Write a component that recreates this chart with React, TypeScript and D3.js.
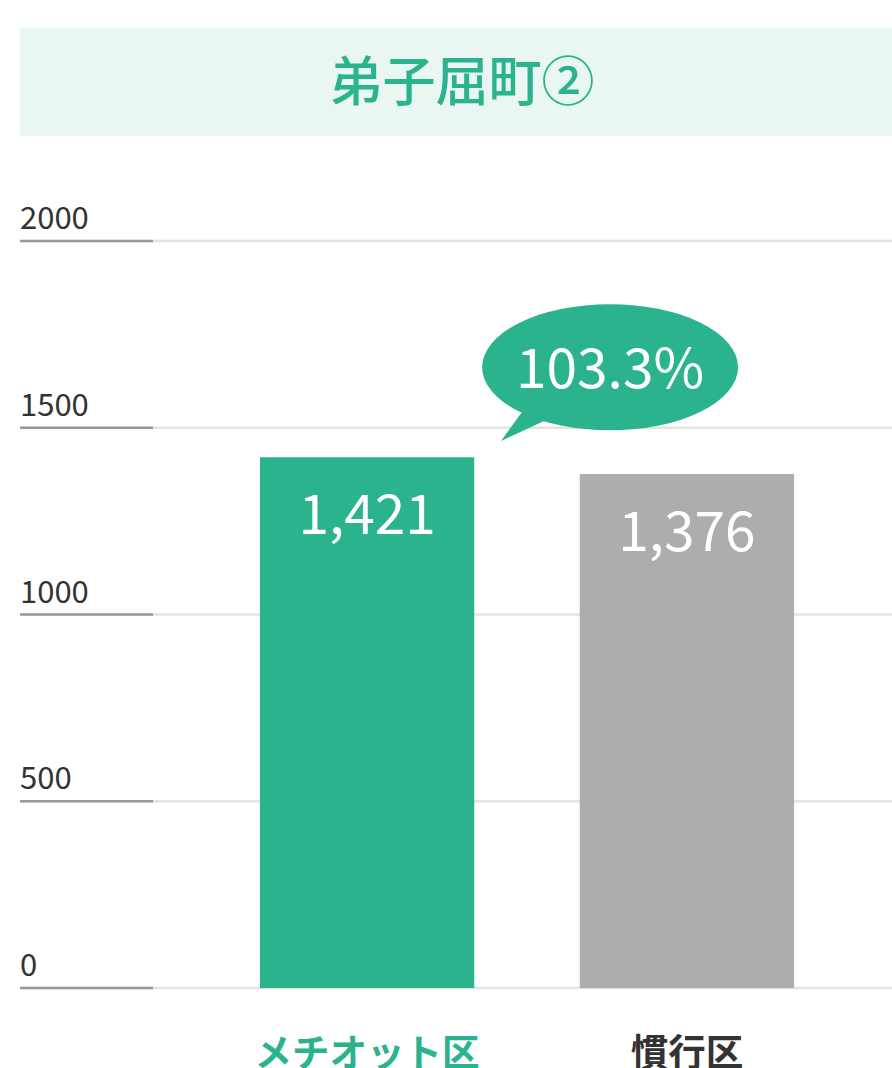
import React from "react";
import * as d3 from "d3";

const title = "弟子屈町②";
const categories = ["メチオット区", "慣行区"];
const values = [1421, 1376];
const valueLabels = ["1,421", "1,376"];
const ratioLabel = "103.3%";
const yTicks = [0, 500, 1000, 1500, 2000];

const W = 892;
const H = 1068;
const GREEN = "#2bb38e";
const GRAY = "#adadad";
const FONT = "'Noto Sans CJK JP', 'Noto Sans', sans-serif";

export default function App() {
  const y = d3.scaleLinear().domain([0, 2000]).range([988, 241]);
  const xb = d3.scaleBand().domain(categories).range([100, 954]).paddingInner(0.33).paddingOuter(0.5);
  const bw = xb.bandwidth();
  const cx0 = (xb(categories[0]) as number) + bw / 2;
  const top0 = y(values[0]);

  const tail = d3.line()([[522, 412], [501, 441], [544, 421]]);

  return (
    <svg width={W} height={H} style={{ display: "block", position: "absolute", left: 0, top: 0 }} fontFamily={FONT}>
      <rect x={20} y={28} width={W - 20} height={108} fill="#e9f6f2" />
      <text x={462} y={101} textAnchor="middle" fontSize={53} fontWeight={500} fill={GREEN}>{title}</text>

      {yTicks.map((t) => (
        <g key={t}>
          <line x1={20} x2={W} y1={y(t)} y2={y(t)} stroke="#e3e3e3" strokeWidth={2.5} />
          <line x1={20} x2={153} y1={y(t)} y2={y(t)} stroke="#9a9a9a" strokeWidth={2.5} />
          <text x={20} y={y(t) - 12} fontSize={31} fill="#333">{t}</text>
        </g>
      ))}

      {categories.map((c, i) => (
        <g key={c}>
          <rect x={xb(c)} y={y(values[i])} width={bw} height={y(0) - y(values[i])} fill={i === 0 ? GREEN : GRAY} />
          <text x={(xb(c) as number) + bw / 2} y={y(values[i]) + 77} textAnchor="middle" fontSize={55} fill="#fff">{valueLabels[i]}</text>
          <text x={(xb(c) as number) + bw / 2} y={1066} textAnchor="middle" fontSize={37.5} fontWeight={700} fill={i === 0 ? GREEN : "#333"}>{c}</text>
        </g>
      ))}

      <g>
        <ellipse cx={cx0 + 243} cy={top0 - 90} rx={128} ry={63} fill={GREEN} />
        <path d={tail + "Z"} fill={GREEN} />
        <text x={cx0 + 243} y={top0 - 69} textAnchor="middle" fontSize={55} fill="#fff">{ratioLabel}</text>
      </g>
    </svg>
  );
}
